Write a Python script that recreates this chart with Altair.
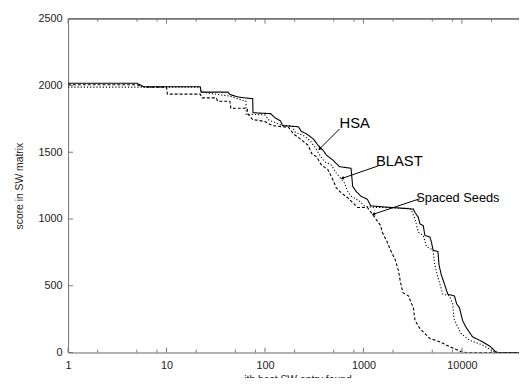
import altair as alt
import pandas as pd

# ---- data ----
hsa_x = [1, 5, 5.9, 22, 22.5, 42, 44, 55, 72, 75, 75.5, 114, 128, 144, 151, 219, 233, 265, 309, 347,
         389, 421, 490, 571, 748, 777, 839, 942, 1097, 1186, 3214, 3340, 3606, 3750, 4048, 4207, 4720,
         4900, 5093, 5715, 5850, 6166, 6668, 7194, 8395, 8850, 9420, 10160, 10970, 12800, 16100,
         19500, 21900, 23000, 38000]
hsa_y = [2017, 2017, 1990, 1990, 1950, 1950, 1932, 1912, 1902, 1902, 1796, 1789, 1755, 1735, 1699,
         1691, 1657, 1637, 1600, 1551, 1515, 1478, 1441, 1392, 1380, 1245, 1208, 1171, 1147, 1098,
         1074, 1049, 1012, 963, 951, 877, 865, 828, 767, 755, 657, 583, 510, 436, 424, 363, 338,
         240, 191, 118, 81, 44, 7, 0, 0]

blast_x = [1, 22, 22.5, 44, 55, 64, 64.5, 100, 110, 130, 150, 188, 203, 246, 286, 321, 360, 404, 472,
           530, 641, 692, 748, 906, 1016, 1200, 3000, 3090, 3340, 3606, 4050, 4370, 5090, 5300, 5715,
           6410, 7480, 8070, 8300, 9780, 11860, 16100, 21100, 23000, 38000]
blast_y = [1988, 1988, 1950, 1920, 1897, 1882, 1785, 1780, 1740, 1720, 1700, 1699, 1649, 1625, 1588,
           1539, 1478, 1429, 1404, 1343, 1270, 1208, 1171, 1135, 1098, 1088, 1080, 1061, 1000, 902,
           877, 792, 767, 657, 559, 436, 424, 363, 252, 142, 93, 57, 7, 0, 0]

ss_x = [1, 5, 6, 10, 10.2, 22, 23, 32, 33, 44, 45, 66, 67, 75, 100, 119, 174, 195, 228, 275, 298, 334,
        375, 437, 490, 530, 594, 692, 777, 871, 1097, 1230, 1493, 1550, 1740, 1880, 2110, 2275, 2365,
        2515, 2865, 3090, 3214, 3340, 3750, 4720, 5940, 7480, 9780, 11000, 38000]
ss_y = [2005, 2005, 1988, 1988, 1935, 1935, 1907, 1907, 1882, 1882, 1829, 1829, 1785, 1745, 1730, 1699,
        1686, 1637, 1600, 1551, 1490, 1466, 1404, 1368, 1294, 1233, 1196, 1159, 1123, 1086, 1086, 1037,
        951, 902, 828, 767, 693, 608, 534, 448, 424, 363, 338, 240, 179, 105, 81, 44, 7, 0, 0]

series_names = ["HSA", "BLAST", "Spaced Seeds"]

x_labels = [1, 10, 100, 1000, 10000]
x_minor = [2, 5, 8, 20, 50, 80, 200, 500, 800, 2000, 5000, 8000, 20000]
y_ticks = [0, 500, 1000, 1500, 2000, 2500]

ann_text = ["HSA", "BLAST", "Spaced  Seeds"]
ann_x = [571, 1340, 3445]
ann_y = [1721, 1434, 1154]
ann_size = [15, 15, 13]

arrow_x = [571, 1403, 3750]
arrow_y = [1674, 1397, 1152]
arrow_x2 = [361, 617, 1279]
arrow_y2 = [1527, 1306, 1037]
arrow_head_angle = [225, 252, 251]

# ---- tables ----
rows = []
for name, xs, ys in zip(series_names, [hsa_x, blast_x, ss_x], [hsa_y, blast_y, ss_y]):
    for i, (a, b) in enumerate(zip(xs, ys)):
        rows.append({"series": name, "x": a, "y": b, "i": i})
df = pd.DataFrame(rows)

ann = pd.DataFrame({"text": ann_text, "x": ann_x, "y": ann_y, "size": ann_size})
arr = pd.DataFrame({"x": arrow_x, "y": arrow_y, "x2": arrow_x2, "y2": arrow_y2})
heads = pd.DataFrame({"x": arrow_x2, "y": arrow_y2, "angle": arrow_head_angle})
major = pd.DataFrame({"x": x_labels})
minor = pd.DataFrame({"x": x_minor})
yt = pd.DataFrame({"y": y_ticks})

W, H = 458, 339
FONT = "Liberation Sans"
AX = "#777777"

xscale = alt.Scale(type="log", domain=[1, 38000], nice=False)
yscale = alt.Scale(domain=[0, 2500], nice=False)

xaxis = alt.Axis(values=x_labels, format="d", ticks=False, grid=False, domainColor=AX,
                 labelPadding=7, labelFontSize=11, labelFont=FONT, labelColor="#222",
                 labelFlush=False, labelOverlap=False,
                 title="ith best SW entry found", titleFont=FONT, titleFontSize=10.5,
                 titleFontWeight="normal", titleColor="#222", titleX=233, titleY=22,
                 titleBaseline="top")
yaxis = alt.Axis(values=y_ticks, format="d", ticks=False, grid=False, domainColor=AX,
                 labelPadding=6, labelFontSize=11, labelFont=FONT, labelColor="#222",
                 labelFlush=False,
                 title="score in SW matrix", titleFont=FONT, titleFontSize=10.5,
                 titleFontWeight="normal", titleColor="#222", titleX=-49, titleBaseline="middle")

X = alt.X("x:Q", scale=xscale, axis=xaxis)
Y = alt.Y("y:Q", scale=yscale, axis=yaxis)

lines = alt.Chart(df).mark_line(color="black", strokeWidth=1.1, clip=True).encode(
    x=X, y=Y,
    strokeDash=alt.StrokeDash("series:N",
                              scale=alt.Scale(domain=series_names, range=[[1, 0], [1.2, 2], [3, 2]]),
                              legend=None),
    order=alt.Order("i:Q"),
)

top_border = alt.Chart(yt).mark_rule(color=AX, strokeWidth=1).encode(y=alt.datum(2500))

tick_bot_major = alt.Chart(major).mark_rule(color=AX).encode(
    x=X, y=alt.value(H), y2=alt.value(H - 5))
tick_bot_minor = alt.Chart(minor).mark_rule(color=AX).encode(
    x=X, y=alt.value(H), y2=alt.value(H - 3))
tick_top_major = alt.Chart(major).mark_rule(color=AX).encode(
    x=X, y=alt.value(0), y2=alt.value(5))
tick_top_minor = alt.Chart(minor).mark_rule(color=AX).encode(
    x=X, y=alt.value(0), y2=alt.value(3))
tick_left = alt.Chart(yt).mark_rule(color=AX).encode(
    y=Y, x=alt.value(0), x2=alt.value(5))

arrows = alt.Chart(arr).mark_rule(color="black", strokeWidth=1).encode(
    x=X, y=Y, x2="x2:Q", y2="y2:Q")

arrowheads = alt.Chart(heads).mark_point(shape="triangle", filled=True, color="black",
                                         size=14, opacity=1).encode(
    x=X, y=Y, angle=alt.Angle("angle:Q", scale=None))

labels = alt.Chart(ann).mark_text(align="left", baseline="middle", font=FONT, color="black").encode(
    x=X, y=Y, text="text:N",
    size=alt.Size("size:Q", scale=None, legend=None))

chart = alt.layer(
    lines, top_border, tick_bot_major, tick_bot_minor, tick_top_major, tick_top_minor,
    tick_left, arrows, arrowheads, labels
).properties(
    width=W, height=H,
    autosize=alt.AutoSizeParams(type="none"),
    padding={"left": 61, "top": 8, "right": 0, "bottom": 23},
).configure_view(stroke=None).configure(background="white")

chart.save("out.html", embed_options={"renderer": "svg", "actions": False})
